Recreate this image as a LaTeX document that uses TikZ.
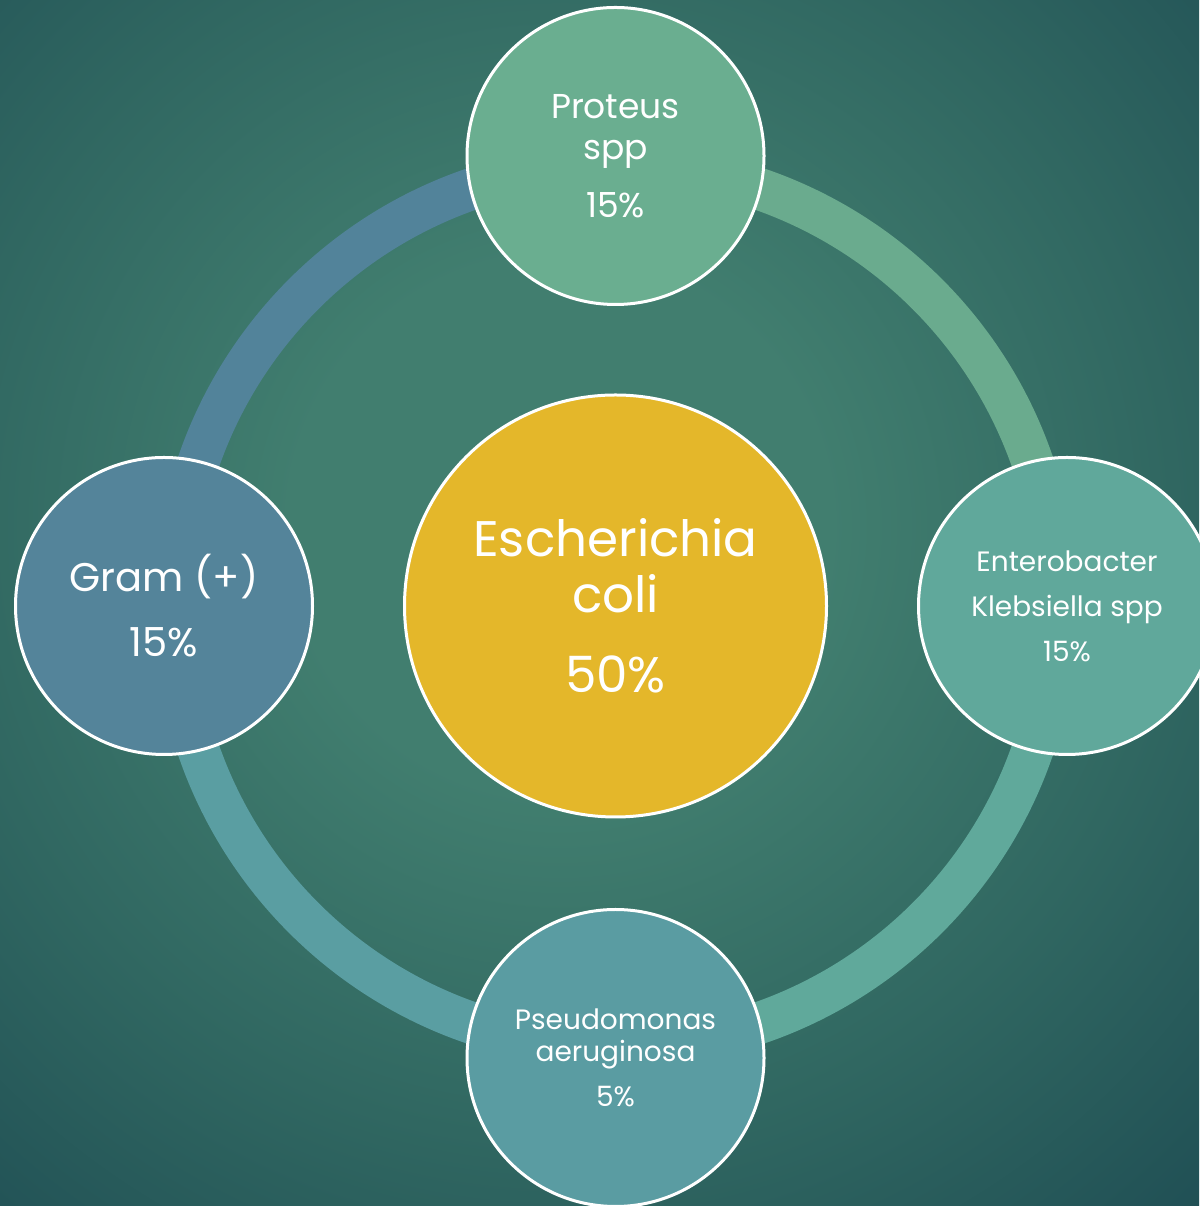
\documentclass[tikz,border=0pt]{standalone}
\usepackage{fontspec}
\setmainfont{Poppins}
\usetikzlibrary{calc}

\definecolor{bgin}{HTML}{417E6F}
\definecolor{bgmid}{HTML}{306761}
\definecolor{bgout}{HTML}{1F4E54}
\definecolor{ringtl}{HTML}{52839A}
\definecolor{ringtr}{HTML}{6AAB8E}
\definecolor{ringbr}{HTML}{60A99B}
\definecolor{ringbl}{HTML}{5A9EA2}
\definecolor{fillproteus}{HTML}{6AAE90}
\definecolor{fillentero}{HTML}{60A89B}
\definecolor{fillpseudo}{HTML}{5A9CA2}
\definecolor{fillgram}{HTML}{54849A}
\definecolor{fillecoli}{HTML}{E4B72A}

\pgfdeclareradialshading{bgglow}{\pgfpoint{0bp}{0bp}}{%
  color(0bp)=(bgin); color(7bp)=(bgin); color(16bp)=(bgmid);
  color(25bp)=(bgout); color(50bp)=(bgout)}

\tikzset{
  x=1pt, y=1pt,
  bubble/.style={circle, draw=white, line width=3pt, text=white,
    inner sep=0pt, align=center},
  satellite/.style={bubble, minimum size=297pt},
  ringseg/.style={line width=42pt},
}

\begin{document}
\begin{tikzpicture}
  \useasboundingbox (0,0) rectangle (1199,1206);
  \begin{scope}
    \clip (0,0) rectangle (1199,1206);
    \shade[shading=bgglow] (-400,-280) rectangle (1520,1640);
  \end{scope}

  % ring centre
  \coordinate (hub) at (615.5,600);

  % ring quadrants
  \draw[ringseg, ringtl] ($(hub)+(90:441)$) arc[start angle=90, end angle=180, radius=441];
  \draw[ringseg, ringtr] ($(hub)+(0:441)$) arc[start angle=0, end angle=90, radius=441];
  \draw[ringseg, ringbr] ($(hub)+(270:441)$) arc[start angle=270, end angle=360, radius=441];
  \draw[ringseg, ringbl] ($(hub)+(180:441)$) arc[start angle=180, end angle=270, radius=441];

  % central bubble
  \node[bubble, fill=fillecoli, minimum size=422pt,
        font=\fontsize{50}{56}\selectfont] (ecoli) at (hub)
        {Escherichia\\coli\\[24pt]50\%};

  % satellites
  \node[satellite, fill=fillproteus, font=\fontsize{34.5}{41}\selectfont]
        (proteus) at (615.5,1050) {Proteus\\spp\\[17pt]15\%};
  \node[satellite, fill=fillentero, font=\fontsize{28}{45}\selectfont]
        (entero) at (1067,600) {Enterobacter\\Klebsiella spp\\15\%};
  \node[satellite, fill=fillpseudo, font=\fontsize{28}{32}\selectfont]
        (pseudo) at (615.5,148) {Pseudomonas\\aeruginosa\\[13pt]5\%};
  \node[satellite, fill=fillgram, font=\fontsize{40}{65}\selectfont]
        (gram) at (164,600) {Gram (+)\\15\%};
\end{tikzpicture}
\end{document}
